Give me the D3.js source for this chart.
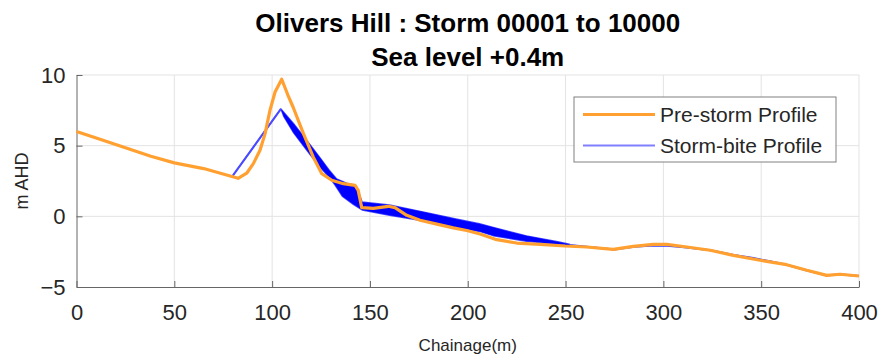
<!DOCTYPE html>
<html>
<head>
<meta charset="utf-8">
<script src="https://cdn.jsdelivr.net/npm/d3@7"></script>
<style>
  body { margin: 0; background: #fff; }
  text { font-family: "Liberation Sans", Arial, sans-serif; fill: #262626; }
</style>
</head>
<body>
<svg width="882" height="360"></svg>
<script>
// pre-storm profile (orange)
const preChainage = [0, 12, 25, 38, 50, 65, 82.6, 87, 90.4, 93.8, 96.4, 98.9, 101.5, 104.9, 108, 110.8, 116, 121, 125.4, 130.5, 136.4, 142.4, 144, 145.8, 151.7, 159.4, 162.8, 168.8, 175.6, 184.2, 192.6, 199.5, 206.3, 214.8, 225, 237, 249.7, 260.8, 274.4, 284.7, 294.9, 301.7, 312, 323.9, 335.8, 349.4, 363, 373.3, 383.5, 390.3, 400];
const preElev = [6.0, 5.45, 4.85, 4.25, 3.78, 3.38, 2.69, 3.05, 3.73, 4.67, 5.85, 7.5, 8.8, 9.7, 8.6, 7.7, 5.85, 4.2, 3.02, 2.55, 2.31, 2.19, 1.84, 0.62, 0.56, 0.71, 0.62, 0.07, -0.28, -0.55, -0.82, -1.0, -1.25, -1.65, -1.89, -1.98, -2.1, -2.17, -2.34, -2.12, -1.98, -1.98, -2.17, -2.4, -2.76, -3.11, -3.42, -3.82, -4.18, -4.1, -4.22];

// storm-bite profiles: shallowest and deepest bite, then the common tail
const biteUpperCh = [80, 104.5, 111, 119.5, 125, 129, 133, 138, 142.5, 144.5, 146, 160, 177, 194, 206, 213, 230, 246, 252];
const biteUpperEl = [2.9, 7.6, 6.55, 5.05, 4.05, 3.3, 2.65, 2.35, 2.2, 1.6, 1.02, 0.8, 0.32, -0.18, -0.52, -0.78, -1.38, -1.8, -1.97];
const biteLowerCh = [80, 104.5, 106, 111, 119.5, 125, 129, 132, 136, 141.5, 146, 160, 177, 194, 206, 213, 230, 246, 252];
const biteLowerEl = [2.9, 7.6, 7.05, 5.9, 4.35, 3.4, 2.8, 2.25, 1.4, 0.85, 0.45, 0.08, -0.32, -0.8, -1.07, -1.37, -1.77, -1.98, -2.02];
const biteTailCh = [252, 262, 275, 285, 293, 302, 312, 324, 336, 346, 355, 363, 373, 383.5, 390, 400];
const biteTailEl = [-2.02, -2.17, -2.34, -2.15, -2.08, -2.08, -2.2, -2.4, -2.74, -2.95, -3.2, -3.42, -3.82, -4.18, -4.1, -4.22];

const xTicks = [0, 50, 100, 150, 200, 250, 300, 350, 400];
const yTicks = [-5, 0, 5, 10];
const titleLines = ["Olivers Hill : Storm 00001 to 10000", "Sea level +0.4m"];
const legendLabels = ["Pre-storm Profile", "Storm-bite Profile"];

const svg = d3.select("svg");
const axLeft = 76.5, axRight = 859, axTop = 75, axBottom = 287;

const x = d3.scaleLinear().domain([0, 400]).range([axLeft, axRight]);
const y = d3.scaleLinear().domain([-5, 10]).range([axBottom, axTop]);

const zip = (a, b) => a.map((d, i) => [d, b[i]]);
const line = d3.line().x(d => x(d[0])).y(d => y(d[1]));

// grid
svg.append("g")
  .selectAll("line")
  .data(xTicks.slice(1))
  .enter().append("line")
  .attr("x1", d => x(d)).attr("x2", d => x(d))
  .attr("y1", axTop).attr("y2", axBottom)
  .attr("stroke", "#e3e3e3").attr("stroke-width", 1);
svg.append("g")
  .selectAll("line")
  .data(yTicks.slice(1))
  .enter().append("line")
  .attr("x1", axLeft).attr("x2", axRight)
  .attr("y1", d => y(d)).attr("y2", d => y(d))
  .attr("stroke", "#e3e3e3").attr("stroke-width", 1);

// axes (ticks inside, MATLAB style)
const xAxis = svg.append("g")
  .attr("transform", `translate(0,${axBottom})`)
  .call(d3.axisBottom(x).tickValues(xTicks).tickSizeInner(-6).tickSizeOuter(0).tickPadding(17));
const yAxis = svg.append("g")
  .attr("transform", `translate(${axLeft},0)`)
  .call(d3.axisLeft(y).tickValues(yTicks).tickSizeInner(-6).tickSizeOuter(0).tickPadding(11));
[xAxis, yAxis].forEach(g => {
  g.select(".domain").attr("stroke", "#666");
  g.selectAll(".tick line").attr("stroke", "#666");
  g.selectAll(".tick text").style("font-size", "22px").attr("fill", "#262626");
});

// storm-bite band
const upper = zip(biteUpperCh, biteUpperEl);
const lower = zip(biteLowerCh, biteLowerEl);
svg.append("path")
  .attr("d", line(upper.concat(lower.slice().reverse())) + "Z")
  .attr("fill", "#0000ff")
  .attr("stroke", "#0000ff").attr("stroke-width", 1.4).attr("stroke-opacity", 0.7)
  .attr("stroke-linejoin", "round");
svg.append("path")
  .attr("d", line(upper.slice(0, 2)))
  .attr("fill", "none").attr("stroke", "#4a4aff").attr("stroke-width", 2);
svg.append("path")
  .attr("d", line(zip(biteTailCh, biteTailEl)))
  .attr("fill", "none").attr("stroke", "#3a3aff").attr("stroke-width", 2);

// pre-storm profile
svg.append("path")
  .attr("d", line(zip(preChainage, preElev)))
  .attr("fill", "none")
  .attr("stroke", "#ffa030")
  .attr("stroke-width", 3.2)
  .attr("stroke-linejoin", "round");

// titles
svg.selectAll("text.title")
  .data(titleLines)
  .enter().append("text")
  .attr("class", "title")
  .attr("x", (axLeft + axRight) / 2)
  .attr("y", (d, i) => 32 + i * 34)
  .attr("text-anchor", "middle")
  .style("font-size", "26px")
  .style("font-weight", "bold")
  .style("fill", "#000")
  .text(d => d);

svg.append("text")
  .attr("x", (axLeft + axRight) / 2)
  .attr("y", 351)
  .attr("text-anchor", "middle")
  .style("font-size", "17px")
  .text("Chainage(m)");

svg.append("text")
  .attr("transform", `translate(28,${(axTop + axBottom) / 2}) rotate(-90)`)
  .attr("text-anchor", "middle")
  .style("font-size", "18px")
  .text("m AHD");

// legend
const legend = svg.append("g").attr("transform", "translate(574,97)");
legend.append("rect")
  .attr("width", 262).attr("height", 65)
  .attr("fill", "#fff").attr("stroke", "#808080").attr("stroke-width", 1);
const legendColors = ["#ffa030", "#8080ff"];
const legendWidths = [3, 2];
legendLabels.forEach((lab, i) => {
  const yy = 17.5 + i * 31;
  legend.append("line")
    .attr("x1", 9).attr("x2", 81).attr("y1", yy).attr("y2", yy)
    .attr("stroke", legendColors[i]).attr("stroke-width", legendWidths[i]);
  legend.append("text")
    .attr("x", 86).attr("y", yy + 7.5)
    .style("font-size", "21px")
    .text(lab);
});
</script>
</body>
</html>
